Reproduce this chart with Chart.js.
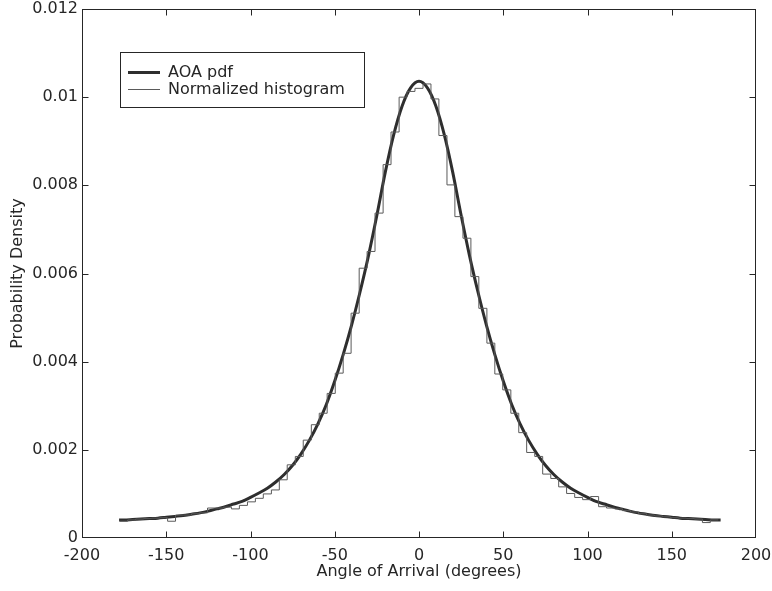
<!DOCTYPE html>
<html>
<head>
<meta charset="utf-8">
<title>AOA pdf</title>
<script src="https://cdn.jsdelivr.net/npm/chart.js@4.4.1/dist/chart.umd.min.js"></script>
<style>
  html, body { margin: 0; padding: 0; background: #fff; }
  #aoa-chart { display: block; }
</style>
</head>
<body>
<canvas id="aoa-chart" width="772" height="591"></canvas>
<script>
// theoretical AOA pdf (degrees -> density)
const pdfAngles = [
  -178, -175, -170, -165, -160, -155, -150, -145, -140, -135, -130, -125,
  -120, -115, -110, -105, -100, -95, -90, -85, -80, -75, -70, -65,
  -60, -55, -50, -45, -40, -35, -30, -25, -20, -15, -10, -5,
  0, 5, 10, 15, 20, 25, 30, 35, 40, 45, 50, 55,
  60, 65, 70, 75, 80, 85, 90, 95, 100, 105, 110, 115,
  120, 125, 130, 135, 140, 145, 150, 155, 160, 165, 170, 175, 179
];
const pdfValues = [
  0.00041, 0.00041, 0.00042, 0.00043, 0.00044, 0.00045, 0.00047, 0.00049, 0.00051, 0.00054, 0.00057, 0.00061,
  0.00066, 0.00071, 0.00077, 0.00083, 0.00092, 0.00102, 0.00113, 0.00127, 0.00144, 0.00165, 0.00191, 0.00222,
  0.00259, 0.00303, 0.00356, 0.00416, 0.00483, 0.00558, 0.00640, 0.00732, 0.00830, 0.00915, 0.00980, 0.01021,
  0.01036, 0.01021, 0.00980, 0.00915, 0.00830, 0.00732, 0.00640, 0.00558, 0.00483, 0.00416, 0.00356, 0.00303,
  0.00259, 0.00222, 0.00191, 0.00165, 0.00144, 0.00127, 0.00113, 0.00102, 0.00092, 0.00083, 0.00077, 0.00071,
  0.00066, 0.00061, 0.00057, 0.00054, 0.00051, 0.00049, 0.00047, 0.00045, 0.00044, 0.00043, 0.00042, 0.00041, 0.00041
];

// normalized histogram, drawn as stairs: step positions and the level after each step
const histSteps = [
  -177.6, -172.9, -168.2, -163.4, -158.7, -153.9, -149.2, -144.5, -139.7, -135.0,
  -130.3, -125.5, -120.8, -116.1, -111.3, -106.6, -101.8, -97.1, -92.4, -87.6,
  -82.9, -78.2, -73.4, -68.7, -63.9, -59.2, -54.5, -49.7, -45.0, -40.3,
  -35.5, -30.8, -26.1, -21.3, -16.6, -11.8, -7.1, -2.4, 2.4, 7.1,
  11.8, 16.6, 21.3, 26.1, 30.8, 35.5, 40.3, 45.0, 49.7, 54.5,
  59.2, 63.9, 68.7, 73.4, 78.2, 82.9, 87.6, 92.4, 97.1, 101.8,
  106.6, 111.3, 116.1, 120.8, 125.5, 130.3, 135.0, 139.7, 144.5, 149.2,
  153.9, 158.7, 163.4, 168.2, 172.9, 177.6
];
const histDensity = [
  0.00038, 0.00041, 0.00043, 0.00044, 0.00045, 0.00046, 0.00038, 0.00052, 0.00052, 0.00055,
  0.00057, 0.00068, 0.00068, 0.00070, 0.00066, 0.00074, 0.00082, 0.00090, 0.00100, 0.00109,
  0.00132, 0.00166, 0.00185, 0.00222, 0.00257, 0.00283, 0.00328, 0.00374, 0.00419, 0.00510,
  0.00612, 0.00650, 0.00737, 0.00847, 0.00921, 0.01000, 0.01013, 0.01020, 0.01030, 0.00996,
  0.00913, 0.00801, 0.00729, 0.00680, 0.00593, 0.00521, 0.00442, 0.00372, 0.00336, 0.00283,
  0.00239, 0.00194, 0.00185, 0.00145, 0.00135, 0.00116, 0.00101, 0.00092, 0.00087, 0.00094,
  0.00071, 0.00068, 0.00066, 0.00062, 0.00059, 0.00055, 0.00052, 0.00050, 0.00048, 0.00046,
  0.00045, 0.00044, 0.00043, 0.00035, 0.00041
];

const xTicks = [-200, -150, -100, -50, 0, 50, 100, 150, 200];
const yTicks = [0, 0.002, 0.004, 0.006, 0.008, 0.01, 0.012];

const legendLabels = ["AOA pdf", "Normalized histogram"];

const inkColor = "#262626";
const pdfColor = "#2e2e2e";
const histColor = "#5a5a5a";
const fontFamily = "'DejaVu Sans', 'Liberation Sans', sans-serif";

Chart.defaults.font.family = fontFamily;
Chart.defaults.font.size = 16;
Chart.defaults.color = inkColor;

const pdfPoints = pdfAngles.map((a, i) => ({ x: a, y: pdfValues[i] }));
const histPoints = histSteps.map((a, i) => ({
  x: a,
  y: histDensity[Math.min(i, histDensity.length - 1)],
}));

// box round the axes, inward tick marks and the legend, matlab style
const matlabFrame = {
  id: "matlabFrame",
  afterDatasetsDraw(chart) {
    const { ctx, chartArea: area, scales } = chart;
    const L = Math.round(area.left) + 0.5;
    const R = Math.round(area.right) - 0.5;
    const T = Math.round(area.top) + 0.5;
    const B = Math.round(area.bottom) - 0.5;
    const tickLen = 6;

    ctx.save();
    ctx.strokeStyle = inkColor;
    ctx.lineWidth = 1;
    ctx.strokeRect(L, T, R - L, B - T);

    ctx.beginPath();
    xTicks.forEach((v) => {
      const px = Math.round(scales.x.getPixelForValue(v)) + 0.5;
      if (px <= L + 1 || px >= R - 1) return;
      ctx.moveTo(px, B); ctx.lineTo(px, B - tickLen);
      ctx.moveTo(px, T); ctx.lineTo(px, T + tickLen);
    });
    yTicks.forEach((v) => {
      const py = Math.round(scales.y.getPixelForValue(v)) + 0.5;
      if (py <= T + 1 || py >= B - 1) return;
      ctx.moveTo(L, py); ctx.lineTo(L + tickLen, py);
      ctx.moveTo(R, py); ctx.lineTo(R - tickLen, py);
    });
    ctx.stroke();

    // legend
    const bx = 120.5, by = 52.5, bw = 244, bh = 55;
    ctx.fillStyle = "#fff";
    ctx.fillRect(bx, by, bw, bh);
    ctx.strokeRect(bx, by, bw, bh);

    const rows = [
      { y: 72, color: pdfColor, width: 3 },
      { y: 89, color: histColor, width: 1 },
    ];
    ctx.font = "16px " + fontFamily;
    ctx.textBaseline = "middle";
    ctx.textAlign = "left";
    rows.forEach((row, i) => {
      ctx.beginPath();
      ctx.strokeStyle = row.color;
      ctx.lineWidth = row.width;
      ctx.moveTo(128, row.y + 0.5);
      ctx.lineTo(160, row.y + 0.5);
      ctx.stroke();
      ctx.fillStyle = inkColor;
      ctx.fillText(legendLabels[i], 168, row.y + 1);
    });
    ctx.restore();
  },
};

const ctx = document.getElementById("aoa-chart");

new Chart(ctx, {
  type: "line",
  data: {
    datasets: [
      {
        label: legendLabels[1],
        data: histPoints,
        borderColor: histColor,
        borderWidth: 1,
        stepped: true,
        pointRadius: 0,
        fill: false,
      },
      {
        label: legendLabels[0],
        data: pdfPoints,
        borderColor: pdfColor,
        borderWidth: 3,
        cubicInterpolationMode: "monotone",
        pointRadius: 0,
        fill: false,
      },
    ],
  },
  options: {
    responsive: false,
    animation: false,
    events: [],
    layout: { padding: { top: 9, right: 16, left: 0, bottom: 0 } },
    plugins: {
      legend: { display: false },
      tooltip: { enabled: false },
    },
    scales: {
      x: {
        type: "linear",
        min: -200,
        max: 200,
        afterFit: (s) => { s.height = 53; s.paddingLeft = 0; s.paddingRight = 0; },
        afterBuildTicks: (s) => { s.ticks = xTicks.map((v) => ({ value: v })); },
        grid: { display: false, drawTicks: false },
        border: { display: false },
        ticks: { padding: 8, maxRotation: 0, callback: (v) => String(v) },
        title: {
          display: true,
          text: "Angle of Arrival (degrees)",
          padding: { top: 0, bottom: 10 },
        },
      },
      y: {
        type: "linear",
        min: 0,
        max: 0.012,
        afterFit: (s) => { s.width = 82; s.paddingTop = 0; s.paddingBottom = 0; },
        afterBuildTicks: (s) => { s.ticks = yTicks.map((v) => ({ value: v })); },
        grid: { display: false, drawTicks: false },
        border: { display: false },
        ticks: { padding: 4, callback: (v) => String(+v.toFixed(3)) },
        title: {
          display: true,
          text: "Probability Density",
          padding: { top: 8, bottom: 0 },
        },
      },
    },
  },
  plugins: [matlabFrame],
});
</script>
</body>
</html>
